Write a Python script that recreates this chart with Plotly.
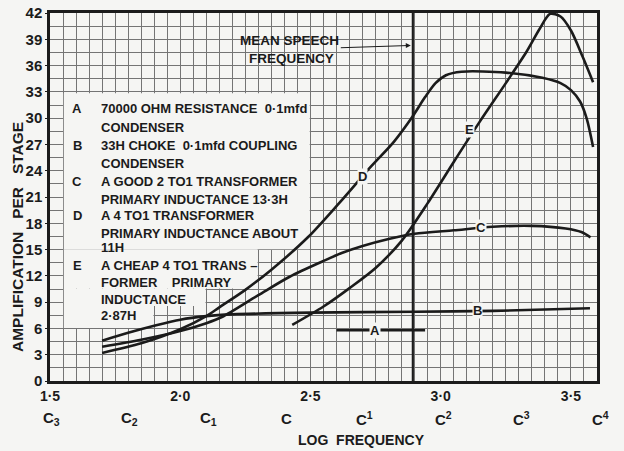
import math
import plotly.graph_objects as go

# ---------------- data ----------------
A_X = [2.60, 2.94]
A_Y = [5.8, 5.8]

B_X = [1.70, 1.80, 1.90, 2.00, 2.10, 2.20, 2.50, 2.90, 3.20, 3.573]
B_Y = [4.6, 5.5, 6.3, 7.0, 7.4, 7.6, 7.8, 7.9, 8.0, 8.3]

C_X = [1.70, 1.85, 2.00, 2.10, 2.16, 2.30, 2.42, 2.55, 2.62, 2.70, 2.80, 2.90, 3.05, 3.20, 3.35, 3.48, 3.54, 3.575]
C_Y = [3.9, 4.7, 5.7, 6.6, 7.3, 9.8, 11.9, 13.7, 14.6, 15.4, 16.2, 16.8, 17.2, 17.6, 17.7, 17.4, 17.0, 16.4]

D_X = [1.70, 1.85, 2.00, 2.10, 2.15, 2.25, 2.35, 2.49, 2.61, 2.73, 2.82, 2.89, 2.94, 2.98, 3.02, 3.08, 3.25, 3.39, 3.46, 3.50, 3.535, 3.56, 3.585]
D_Y = [3.2, 4.3, 5.9, 7.4, 8.4, 10.4, 12.7, 16.4, 20.3, 24.4, 27.3, 30.1, 32.4, 34.0, 34.9, 35.3, 35.2, 34.6, 34.0, 33.2, 31.9, 30.0, 26.7]

E_X = [2.43, 2.55, 2.65, 2.75, 2.85, 2.95, 3.05, 3.15, 3.25, 3.33, 3.38, 3.42, 3.46, 3.50, 3.545, 3.585]
E_Y = [6.4, 8.5, 10.6, 12.9, 16.0, 20.3, 25.0, 29.6, 34.0, 37.6, 40.2, 41.9, 41.6, 40.0, 37.0, 34.1]

CURVE_LABELS = ["A", "B", "C", "D", "E"]
LABEL_X = [2.748, 3.143, 3.155, 2.698, 3.112]
LABEL_Y = [5.8, 8.0, 17.5, 23.3, 28.7]

MEAN_SPEECH_LOG_F = 2.893

X_RANGE = [1.5, 3.6]
Y_RANGE = [0, 42]
X_TICKS = [1.5, 2.0, 2.5, 3.0, 3.5]
X_TICK_TEXT = ["1·5", "2·0", "2·5", "3·0", "3·5"]
Y_TICKS = list(range(0, 43, 3))

NOTE_FREQS = [32, 64, 128, 256, 512, 1024, 2048, 4096]
NOTE_NAMES = ["C<sub>3</sub>", "C<sub>2</sub>", "C<sub>1</sub>", "C",
              "C<sup>1</sup>", "C<sup>2</sup>", "C<sup>3</sup>", "C<sup>4</sup>"]

LEGEND = [
    ("A", ["70000 OHM RESISTANCE\u00a0\u00a00·1mfd", "CONDENSER"]),
    ("B", ["33H CHOKE\u00a0\u00a00·1mfd COUPLING", "CONDENSER"]),
    ("C", ["A GOOD 2 TO1 TRANSFORMER", "PRIMARY INDUCTANCE 13·3H"]),
    ("D", ["A 4 TO1 TRANSFORMER", "PRIMARY INDUCTANCE ABOUT", "11H"]),
    ("E", ["A CHEAP 4 TO1 TRANS –", "FORMER\u00a0\u00a0\u00a0\u00a0PRIMARY", "INDUCTANCE", "2·87H"]),
]

# ---------------- layout helpers ----------------
W, H = 624, 451
L, R, T, B = 50, 27, 13, 70
PW, PH = W - L - R, H - T - B


def xp(px):
    return (px - L) / PW


def yp(py):
    return (H - B - py) / PH


def xdata_to_paper(v):
    return (v - X_RANGE[0]) / (X_RANGE[1] - X_RANGE[0])


BG = "#f5f5f3"
INK = "#1b1b1b"
GRID = "#747474"
FONT = "Liberation Sans"

fig = go.Figure()

for xs, ys in [(A_X, A_Y), (B_X, B_Y), (C_X, C_Y), (D_X, D_Y), (E_X, E_Y)]:
    fig.add_trace(go.Scatter(x=xs, y=ys, mode="lines",
                             line=dict(color=INK, width=2.6, shape="spline", smoothing=0.8),
                             showlegend=False, hoverinfo="skip"))

# mean speech frequency line
fig.add_trace(go.Scatter(x=[MEAN_SPEECH_LOG_F, MEAN_SPEECH_LOG_F], y=Y_RANGE, mode="lines",
                         line=dict(color=INK, width=2.2), showlegend=False, hoverinfo="skip"))

# white legend box (stair shape), between grid and traces
boxes = [
    (1.553, 2.497, 15.05, 32.85),
    (1.553, 2.297, 10.55, 15.05),
    (1.553, 2.097, 8.55, 10.55),
    (1.553, 1.897, 6.05, 8.55),
]
shapes = []
for x0, x1, y0, y1 in boxes:
    shapes.append(dict(type="rect", xref="x", yref="y", x0=x0, x1=x1, y0=y0, y1=y1,
                       fillcolor=BG, line=dict(width=0), layer="between"))

ann = []
# curve labels
for t, x, y in zip(CURVE_LABELS, LABEL_X, LABEL_Y):
    ann.append(dict(x=x, y=y, xref="x", yref="y", text="<b>%s</b>" % t, showarrow=False,
                    font=dict(family=FONT, size=13, color=INK), bgcolor=BG, borderpad=0))

# legend text
row_y = [108, 127, 145, 163, 181, 199, 216, 233, 247, 265, 282, 299, 315]
i = 0
for letter, lines in LEGEND:
    ann.append(dict(x=xp(77), y=yp(row_y[i]), xref="paper", yref="paper",
                    text="<b>%s</b>" % letter, showarrow=False, xanchor="center", yanchor="middle",
                    font=dict(family=FONT, size=13, color=INK)))
    for ln in lines:
        ann.append(dict(x=xp(99), y=yp(row_y[i]), xref="paper", yref="paper",
                        text="<b>%s</b>" % ln, showarrow=False, xanchor="left", yanchor="middle",
                        font=dict(family=FONT, size=13, color=INK)))
        i += 1

# mean speech annotation
ann.append(dict(x=MEAN_SPEECH_LOG_F - 0.004, y=38.3, xref="x", yref="y",
                text="<b>MEAN SPEECH<br>\u00a0FREQUENCY</b>", showarrow=True,
                arrowhead=2, arrowsize=1, arrowwidth=1, arrowcolor=INK,
                axref="pixel", ayref="pixel", ax=-122, ay=4, standoff=1,
                align="center", font=dict(family=FONT, size=13.5, color=INK)))

# note names under axis
for f, name in zip(NOTE_FREQS, NOTE_NAMES):
    ann.append(dict(x=xdata_to_paper(math.log10(f)), y=yp(419), xref="paper", yref="paper",
                    text="<b>%s</b>" % name, showarrow=False, xanchor="center", yanchor="middle",
                    font=dict(family=FONT, size=15, color=INK)))

# axis titles
ann.append(dict(x=xp(361), y=yp(440), xref="paper", yref="paper",
                text="<b>LOG\u00a0\u00a0FREQUENCY</b>", showarrow=False,
                xanchor="center", yanchor="middle",
                font=dict(family=FONT, size=14, color=INK)))
ann.append(dict(x=xp(17), y=yp(237), xref="paper", yref="paper",
                text="<b>AMPLIFICATION\u00a0\u00a0 PER\u00a0\u00a0 STAGE</b>", showarrow=False, textangle=-90,
                xanchor="center", yanchor="middle",
                font=dict(family=FONT, size=15.5, color=INK)))

fig.update_layout(
    width=W, height=H, autosize=False,
    margin=dict(l=L, r=R, t=T, b=B, pad=0, autoexpand=False),
    paper_bgcolor=BG, plot_bgcolor=BG,
    shapes=shapes, annotations=ann,
    font=dict(family=FONT, color=INK),
)

fig.update_xaxes(range=X_RANGE, tickvals=X_TICKS, ticktext=["<b>%s</b>" % t for t in X_TICK_TEXT],
                 tickfont=dict(family=FONT, size=14, color=INK),
                 showgrid=True, gridcolor=GRID, gridwidth=1.4,
                 minor=dict(dtick=0.05, tick0=1.5, showgrid=True, gridcolor=GRID, gridwidth=1.4),
                 showline=True, linecolor=INK, linewidth=2.5, mirror=True,
                 ticks="", zeroline=False, fixedrange=True, automargin=False)
fig.update_yaxes(range=Y_RANGE, tickvals=Y_TICKS, ticktext=["<b>%d</b>" % v for v in Y_TICKS],
                 tickfont=dict(family=FONT, size=15, color=INK),
                 showgrid=True, gridcolor=GRID, gridwidth=1.4,
                 minor=dict(dtick=1.5, tick0=0, showgrid=True, gridcolor=GRID, gridwidth=1.4),
                 showline=True, linecolor=INK, linewidth=2.5, mirror=True,
                 ticks="outside", ticklen=2, tickcolor=INK, zeroline=False, fixedrange=True,
                 automargin=False)

fig.write_html("out.html", config={"displayModeBar": False},
               post_script="document.body.style.margin='0';document.body.style.overflow='hidden';")
